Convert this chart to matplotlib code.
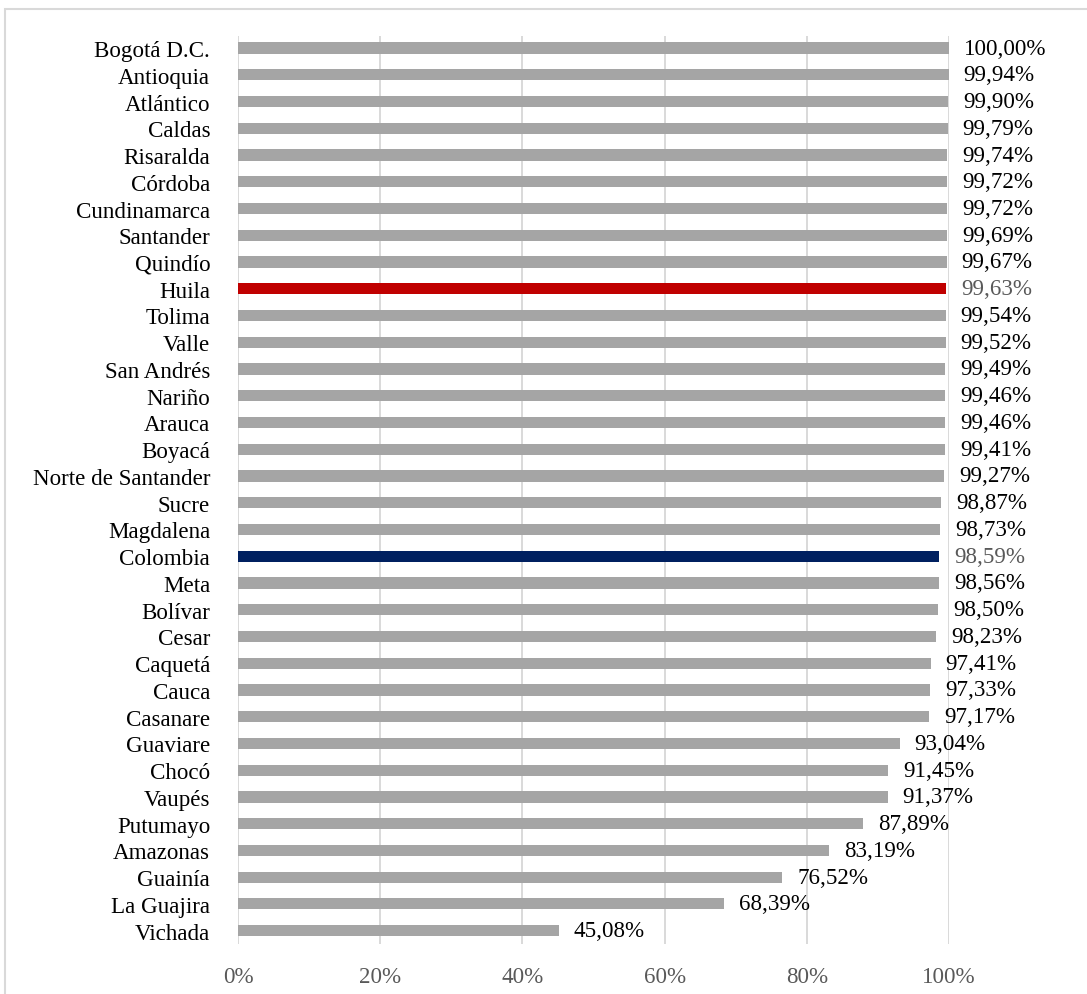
import matplotlib
matplotlib.use("Agg")
import matplotlib.pyplot as plt
import matplotlib.patches as mpatches
from matplotlib.ticker import FuncFormatter
from matplotlib.transforms import offset_copy

plt.rcParams['font.family'] = ['Liberation Serif', 'DejaVu Serif']

deptos = ['Bogotá D.C.', 'Antioquia', 'Atlántico', 'Caldas', 'Risaralda', 'Córdoba',
          'Cundinamarca', 'Santander', 'Quindío', 'Huila', 'Tolima', 'Valle',
          'San Andrés', 'Nariño', 'Arauca', 'Boyacá', 'Norte de Santander', 'Sucre',
          'Magdalena', 'Colombia', 'Meta', 'Bolívar', 'Cesar', 'Caquetá', 'Cauca',
          'Casanare', 'Guaviare', 'Chocó', 'Vaupés', 'Putumayo', 'Amazonas',
          'Guainía', 'La Guajira', 'Vichada']
valores = [100.00, 99.94, 99.90, 99.79, 99.74, 99.72, 99.72, 99.69, 99.67, 99.63,
           99.54, 99.52, 99.49, 99.46, 99.46, 99.41, 99.27, 98.87, 98.73, 98.59,
           98.56, 98.50, 98.23, 97.41, 97.33, 97.17, 93.04, 91.45, 91.37, 87.89,
           83.19, 76.52, 68.39, 45.08]
resaltar = {'Huila': '#C00000', 'Colombia': '#002060'}

fig = plt.figure(figsize=(10.87, 9.95), dpi=100)
ax = fig.add_axes([238/1087, 1-945/995, (949-238)/1087, (945-37)/995])

pos = list(range(len(deptos)))
cols = [resaltar.get(d, '#A5A5A5') for d in deptos]
ax.barh(pos, [v/100 for v in valores], height=0.42, color=cols, zorder=3)

off = offset_copy(ax.transData, fig=fig, x=15, y=0, units='dots')
for i, (d, v) in enumerate(zip(deptos, valores)):
    txt = f'{v:.2f}'.replace('.', ',') + '%'
    c = '#595959' if d in resaltar else 'black'
    ax.text(v/100, i, txt, transform=off, va='center', ha='left', fontsize=16.6, color=c)

ax.set_xlim(0, 1)
ax.set_ylim(len(deptos) - 0.5, -0.45)
ax.set_yticks(pos)
ax.set_yticklabels(deptos, fontsize=16.6)
ax.set_xticks([0, 0.2, 0.4, 0.6, 0.8, 1.0])
ax.xaxis.set_major_formatter(FuncFormatter(lambda x, p: f'{x*100:.0f}%'))
ax.tick_params(axis='x', length=0, pad=16, labelsize=16.6, labelcolor='#595959')
ax.tick_params(axis='y', length=0, pad=20)
ax.grid(axis='x', color='#D9D9D9', linewidth=1.4, zorder=0)
for s in ax.spines.values():
    s.set_visible(False)

borde = mpatches.Rectangle((5/1087, -0.05), 1.1, 1 - 9.5/995 + 0.05,
                           transform=fig.transFigure, fill=False,
                           edgecolor='#D9D9D9', linewidth=1.5)
fig.patches.append(borde)

fig.savefig('out.png', dpi=100)
